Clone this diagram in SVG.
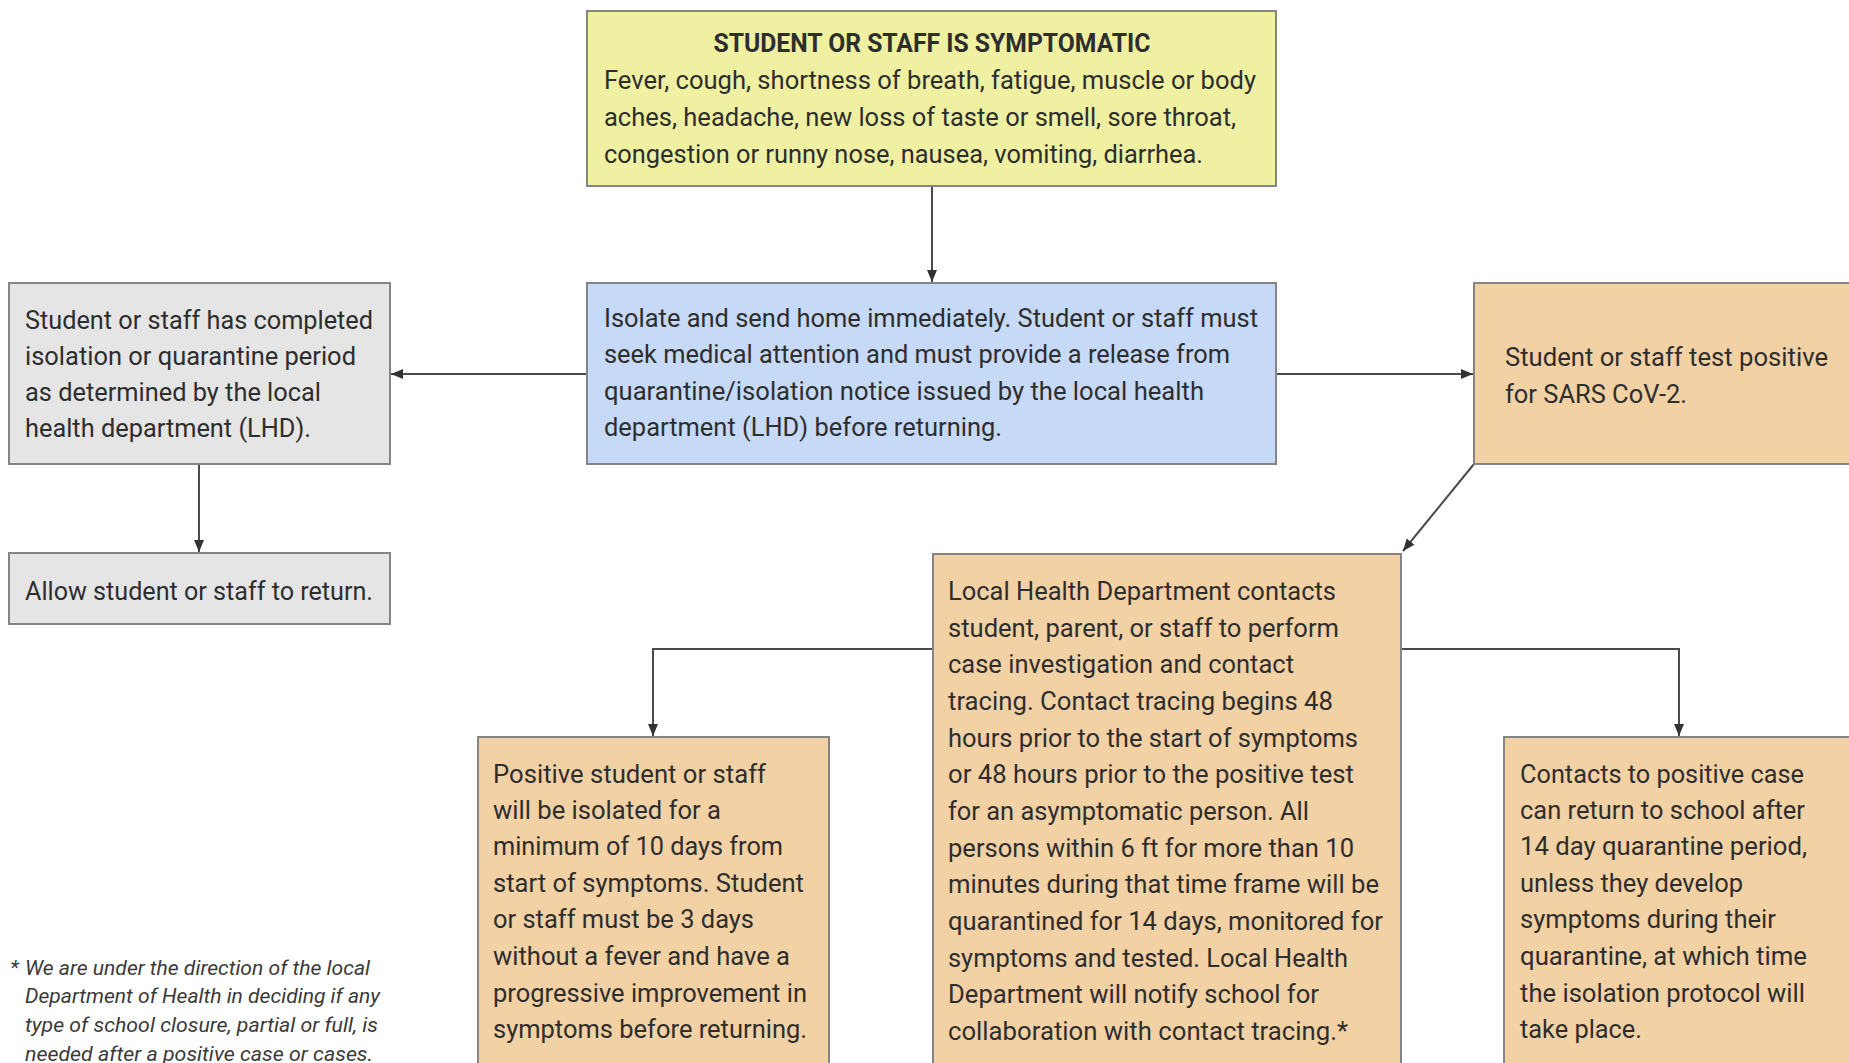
<svg xmlns="http://www.w3.org/2000/svg" width="1849" height="1063" viewBox="0 0 1849 1063">
<style>
.box{stroke:#858585;stroke-width:2}
.yellow{fill:#eff0a2}
.blue{fill:#c6d9f6}
.gray{fill:#e5e5e5}
.orange{fill:#f2d1a5}
.t{font-family:Roboto,"Liberation Sans",sans-serif;font-size:25px;fill:#2e2e2e}
.b{font-weight:bold}
.fn{font-family:Roboto,"Liberation Sans",sans-serif;font-size:21px;font-style:italic;fill:#3a3a3a}
.c{fill:none;stroke:#4a4a4a;stroke-width:2}
</style>
<defs>
<marker id="ah" markerUnits="userSpaceOnUse" markerWidth="14" markerHeight="12" refX="12" refY="6" orient="auto">
<path d="M0,1 L12,6 L0,11 Z" fill="#333"/>
</marker>
</defs>
<rect width="1849" height="1063" fill="#ffffff"/>

<g id="connectors">
<line class="c" x1="932" y1="186" x2="932" y2="282" marker-end="url(#ah)"/>
<line class="c" x1="587" y1="374" x2="391" y2="374" marker-end="url(#ah)"/>
<line class="c" x1="1276" y1="374" x2="1473" y2="374" marker-end="url(#ah)"/>
<line class="c" x1="199" y1="464" x2="199" y2="552" marker-end="url(#ah)"/>
<line class="c" x1="1474" y1="464" x2="1403" y2="551" marker-end="url(#ah)"/>
<polyline class="c" points="933,649 653,649 653,736" marker-end="url(#ah)"/>
<polyline class="c" points="1401,649 1679,649 1679,736" marker-end="url(#ah)"/>
</g>

<g id="symptomatic">
<rect class="box yellow" x="587" y="11" width="689" height="175"/>
<text class="t b" x="932" y="52" text-anchor="middle" textLength="437" lengthAdjust="spacingAndGlyphs">STUDENT OR STAFF IS SYMPTOMATIC</text>
<text class="t" x="604" y="89" textLength="652" lengthAdjust="spacingAndGlyphs">Fever, cough, shortness of breath, fatigue, muscle or body</text>
<text class="t" x="604" y="126" textLength="632" lengthAdjust="spacingAndGlyphs">aches, headache, new loss of taste or smell, sore throat,</text>
<text class="t" x="604" y="163" textLength="599" lengthAdjust="spacingAndGlyphs">congestion or runny nose, nausea, vomiting, diarrhea.</text>
</g>

<g id="isolate">
<rect class="box blue" x="587" y="283" width="689" height="181"/>
<text class="t" x="604" y="327" textLength="654" lengthAdjust="spacingAndGlyphs">Isolate and send home immediately. Student or staff must</text>
<text class="t" x="604" y="363" textLength="626" lengthAdjust="spacingAndGlyphs">seek medical attention and must provide a release from</text>
<text class="t" x="604" y="400" textLength="600" lengthAdjust="spacingAndGlyphs">quarantine/isolation notice issued by the local health</text>
<text class="t" x="604" y="436" textLength="398" lengthAdjust="spacingAndGlyphs">department (LHD) before returning.</text>
</g>

<g id="completed">
<rect class="box gray" x="9" y="283" width="381" height="181"/>
<text class="t" x="25" y="329" textLength="348" lengthAdjust="spacingAndGlyphs">Student or staff has completed</text>
<text class="t" x="25" y="365" textLength="331" lengthAdjust="spacingAndGlyphs">isolation or quarantine period</text>
<text class="t" x="25" y="401" textLength="296" lengthAdjust="spacingAndGlyphs">as determined by the local</text>
<text class="t" x="25" y="437" textLength="286" lengthAdjust="spacingAndGlyphs">health department (LHD).</text>
</g>

<g id="allow">
<rect class="box gray" x="9" y="553" width="381" height="71"/>
<text class="t" x="25" y="600" textLength="348" lengthAdjust="spacingAndGlyphs">Allow student or staff to return.</text>
</g>

<g id="positive">
<rect class="box orange" x="1474" y="283" width="390" height="181"/>
<text class="t" x="1505" y="366" textLength="323" lengthAdjust="spacingAndGlyphs">Student or staff test positive</text>
<text class="t" x="1505" y="403" textLength="182" lengthAdjust="spacingAndGlyphs">for SARS CoV-2.</text>
</g>

<g id="lhd-contacts">
<rect class="box orange" x="933" y="554" width="468" height="520"/>
<text class="t" x="948" y="600" textLength="388" lengthAdjust="spacingAndGlyphs">Local Health Department contacts</text>
<text class="t" x="948" y="637" textLength="391" lengthAdjust="spacingAndGlyphs">student, parent, or staff to perform</text>
<text class="t" x="948" y="673" textLength="346" lengthAdjust="spacingAndGlyphs">case investigation and contact</text>
<text class="t" x="948" y="710" textLength="385" lengthAdjust="spacingAndGlyphs">tracing. Contact tracing begins 48</text>
<text class="t" x="948" y="747" textLength="410" lengthAdjust="spacingAndGlyphs">hours prior to the start of symptoms</text>
<text class="t" x="948" y="783" textLength="406" lengthAdjust="spacingAndGlyphs">or 48 hours prior to the positive test</text>
<text class="t" x="948" y="820" textLength="361" lengthAdjust="spacingAndGlyphs">for an asymptomatic person. All</text>
<text class="t" x="948" y="857" textLength="406" lengthAdjust="spacingAndGlyphs">persons within 6 ft for more than 10</text>
<text class="t" x="948" y="893" textLength="431" lengthAdjust="spacingAndGlyphs">minutes during that time frame will be</text>
<text class="t" x="948" y="930" textLength="435" lengthAdjust="spacingAndGlyphs">quarantined for 14 days, monitored for</text>
<text class="t" x="948" y="967" textLength="400" lengthAdjust="spacingAndGlyphs">symptoms and tested. Local Health</text>
<text class="t" x="948" y="1003" textLength="371" lengthAdjust="spacingAndGlyphs">Department will notify school for</text>
<text class="t" x="948" y="1040" textLength="400" lengthAdjust="spacingAndGlyphs">collaboration with contact tracing.*</text>
</g>

<g id="isolated-10-days">
<rect class="box orange" x="478" y="737" width="351" height="337"/>
<text class="t" x="493" y="783" textLength="273" lengthAdjust="spacingAndGlyphs">Positive student or staff</text>
<text class="t" x="493" y="819" textLength="228" lengthAdjust="spacingAndGlyphs">will be isolated for a</text>
<text class="t" x="493" y="855" textLength="290" lengthAdjust="spacingAndGlyphs">minimum of 10 days from</text>
<text class="t" x="493" y="892" textLength="311" lengthAdjust="spacingAndGlyphs">start of symptoms. Student</text>
<text class="t" x="493" y="928" textLength="261" lengthAdjust="spacingAndGlyphs">or staff must be 3 days</text>
<text class="t" x="493" y="965" textLength="297" lengthAdjust="spacingAndGlyphs">without a fever and have a</text>
<text class="t" x="493" y="1002" textLength="314" lengthAdjust="spacingAndGlyphs">progressive improvement in</text>
<text class="t" x="493" y="1038" textLength="314" lengthAdjust="spacingAndGlyphs">symptoms before returning.</text>
</g>

<g id="contacts-return">
<rect class="box orange" x="1504" y="737" width="360" height="337"/>
<text class="t" x="1520" y="783" textLength="284" lengthAdjust="spacingAndGlyphs">Contacts to positive case</text>
<text class="t" x="1520" y="819" textLength="285" lengthAdjust="spacingAndGlyphs">can return to school after</text>
<text class="t" x="1520" y="855" textLength="287" lengthAdjust="spacingAndGlyphs">14 day quarantine period,</text>
<text class="t" x="1520" y="892" textLength="223" lengthAdjust="spacingAndGlyphs">unless they develop</text>
<text class="t" x="1520" y="928" textLength="256" lengthAdjust="spacingAndGlyphs">symptoms during their</text>
<text class="t" x="1520" y="965" textLength="287" lengthAdjust="spacingAndGlyphs">quarantine, at which time</text>
<text class="t" x="1520" y="1002" textLength="285" lengthAdjust="spacingAndGlyphs">the isolation protocol will</text>
<text class="t" x="1520" y="1038" textLength="122" lengthAdjust="spacingAndGlyphs">take place.</text>
</g>

<g id="footnote">
<text class="fn" x="10" y="975">*</text>
<text class="fn" x="25" y="975" textLength="345" lengthAdjust="spacingAndGlyphs">We are under the direction of the local</text>
<text class="fn" x="25" y="1003" textLength="355" lengthAdjust="spacingAndGlyphs">Department of Health in deciding if any</text>
<text class="fn" x="25" y="1032" textLength="353" lengthAdjust="spacingAndGlyphs">type of school closure, partial or full, is</text>
<text class="fn" x="25" y="1061" textLength="348" lengthAdjust="spacingAndGlyphs">needed after a positive case or cases.</text>
</g>
</svg>
